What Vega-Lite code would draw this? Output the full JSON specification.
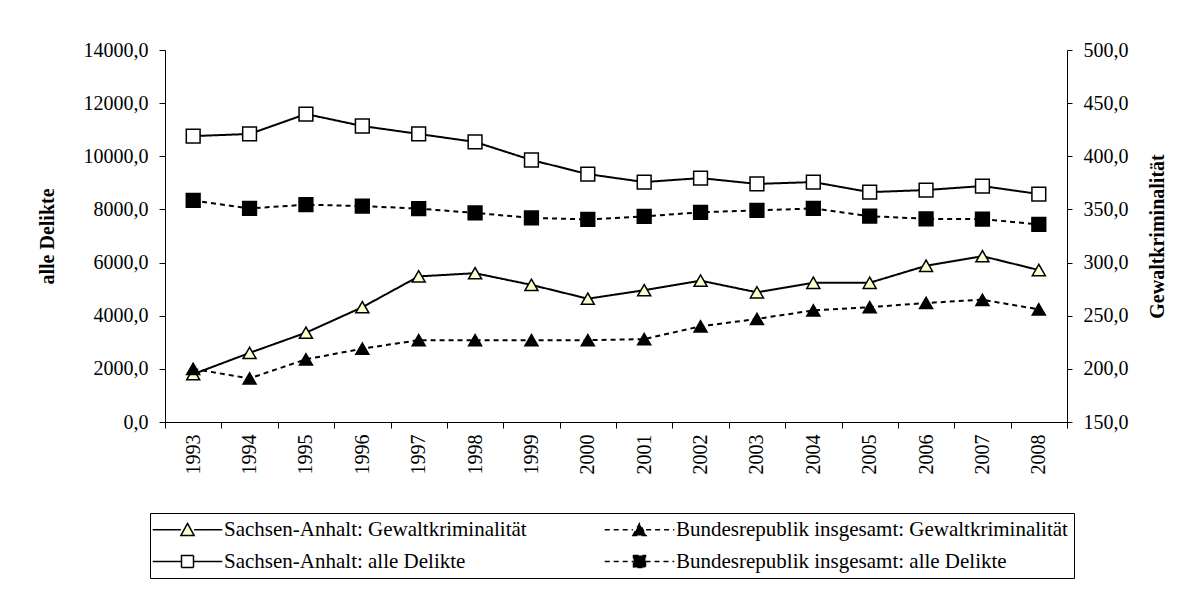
{
  "$schema": "https://vega.github.io/schema/vega-lite/v6.json",
  "width": 902,
  "height": 372,
  "autosize": "none",
  "padding": {"left": 165, "top": 50, "right": 125, "bottom": 175},
  "background": "white",
  "config": {
    "view": {"stroke": null},
    "font": "Liberation Serif",
    "axis": {
      "labelFont": "Liberation Serif",
      "labelFontSize": 20,
      "labelColor": "black",
      "titleFont": "Liberation Serif",
      "titleFontSize": 20,
      "titleFontWeight": "bold",
      "titleColor": "black",
      "domainColor": "black",
      "tickColor": "black",
      "grid": false,
      "labelOverlap": false,
      "labelBound": false,
      "labelFlush": false
    }
  },
  "data": {
    "values": [
      {"year": "1993", "series": "Sachsen-Anhalt: alle Delikte", "value": 10760},
      {"year": "1994", "series": "Sachsen-Anhalt: alle Delikte", "value": 10840},
      {"year": "1995", "series": "Sachsen-Anhalt: alle Delikte", "value": 11590},
      {"year": "1996", "series": "Sachsen-Anhalt: alle Delikte", "value": 11140},
      {"year": "1997", "series": "Sachsen-Anhalt: alle Delikte", "value": 10840},
      {"year": "1998", "series": "Sachsen-Anhalt: alle Delikte", "value": 10540},
      {"year": "1999", "series": "Sachsen-Anhalt: alle Delikte", "value": 9860},
      {"year": "2000", "series": "Sachsen-Anhalt: alle Delikte", "value": 9330},
      {"year": "2001", "series": "Sachsen-Anhalt: alle Delikte", "value": 9030},
      {"year": "2002", "series": "Sachsen-Anhalt: alle Delikte", "value": 9180},
      {"year": "2003", "series": "Sachsen-Anhalt: alle Delikte", "value": 8960},
      {"year": "2004", "series": "Sachsen-Anhalt: alle Delikte", "value": 9030},
      {"year": "2005", "series": "Sachsen-Anhalt: alle Delikte", "value": 8650},
      {"year": "2006", "series": "Sachsen-Anhalt: alle Delikte", "value": 8730},
      {"year": "2007", "series": "Sachsen-Anhalt: alle Delikte", "value": 8880},
      {"year": "2008", "series": "Sachsen-Anhalt: alle Delikte", "value": 8580},
      {"year": "1993", "series": "Bundesrepublik insgesamt: alle Delikte", "value": 8337},
      {"year": "1994", "series": "Bundesrepublik insgesamt: alle Delikte", "value": 8038},
      {"year": "1995", "series": "Bundesrepublik insgesamt: alle Delikte", "value": 8179},
      {"year": "1996", "series": "Bundesrepublik insgesamt: alle Delikte", "value": 8125},
      {"year": "1997", "series": "Bundesrepublik insgesamt: alle Delikte", "value": 8031},
      {"year": "1998", "series": "Bundesrepublik insgesamt: alle Delikte", "value": 7869},
      {"year": "1999", "series": "Bundesrepublik insgesamt: alle Delikte", "value": 7682},
      {"year": "2000", "series": "Bundesrepublik insgesamt: alle Delikte", "value": 7625},
      {"year": "2001", "series": "Bundesrepublik insgesamt: alle Delikte", "value": 7736},
      {"year": "2002", "series": "Bundesrepublik insgesamt: alle Delikte", "value": 7893},
      {"year": "2003", "series": "Bundesrepublik insgesamt: alle Delikte", "value": 7963},
      {"year": "2004", "series": "Bundesrepublik insgesamt: alle Delikte", "value": 8037},
      {"year": "2005", "series": "Bundesrepublik insgesamt: alle Delikte", "value": 7747},
      {"year": "2006", "series": "Bundesrepublik insgesamt: alle Delikte", "value": 7647},
      {"year": "2007", "series": "Bundesrepublik insgesamt: alle Delikte", "value": 7635},
      {"year": "2008", "series": "Bundesrepublik insgesamt: alle Delikte", "value": 7436},
      {"year": "1993", "series": "Sachsen-Anhalt: Gewaltkriminalität", "value": 195},
      {"year": "1994", "series": "Sachsen-Anhalt: Gewaltkriminalität", "value": 215},
      {"year": "1995", "series": "Sachsen-Anhalt: Gewaltkriminalität", "value": 234},
      {"year": "1996", "series": "Sachsen-Anhalt: Gewaltkriminalität", "value": 258},
      {"year": "1997", "series": "Sachsen-Anhalt: Gewaltkriminalität", "value": 287},
      {"year": "1998", "series": "Sachsen-Anhalt: Gewaltkriminalität", "value": 290},
      {"year": "1999", "series": "Sachsen-Anhalt: Gewaltkriminalität", "value": 279},
      {"year": "2000", "series": "Sachsen-Anhalt: Gewaltkriminalität", "value": 266},
      {"year": "2001", "series": "Sachsen-Anhalt: Gewaltkriminalität", "value": 274},
      {"year": "2002", "series": "Sachsen-Anhalt: Gewaltkriminalität", "value": 283},
      {"year": "2003", "series": "Sachsen-Anhalt: Gewaltkriminalität", "value": 272},
      {"year": "2004", "series": "Sachsen-Anhalt: Gewaltkriminalität", "value": 281},
      {"year": "2005", "series": "Sachsen-Anhalt: Gewaltkriminalität", "value": 281},
      {"year": "2006", "series": "Sachsen-Anhalt: Gewaltkriminalität", "value": 297},
      {"year": "2007", "series": "Sachsen-Anhalt: Gewaltkriminalität", "value": 306},
      {"year": "2008", "series": "Sachsen-Anhalt: Gewaltkriminalität", "value": 293},
      {"year": "1993", "series": "Bundesrepublik insgesamt: Gewaltkriminalität", "value": 200},
      {"year": "1994", "series": "Bundesrepublik insgesamt: Gewaltkriminalität", "value": 191},
      {"year": "1995", "series": "Bundesrepublik insgesamt: Gewaltkriminalität", "value": 209},
      {"year": "1996", "series": "Bundesrepublik insgesamt: Gewaltkriminalität", "value": 219},
      {"year": "1997", "series": "Bundesrepublik insgesamt: Gewaltkriminalität", "value": 227},
      {"year": "1998", "series": "Bundesrepublik insgesamt: Gewaltkriminalität", "value": 227},
      {"year": "1999", "series": "Bundesrepublik insgesamt: Gewaltkriminalität", "value": 227},
      {"year": "2000", "series": "Bundesrepublik insgesamt: Gewaltkriminalität", "value": 227},
      {"year": "2001", "series": "Bundesrepublik insgesamt: Gewaltkriminalität", "value": 228},
      {"year": "2002", "series": "Bundesrepublik insgesamt: Gewaltkriminalität", "value": 240},
      {"year": "2003", "series": "Bundesrepublik insgesamt: Gewaltkriminalität", "value": 247},
      {"year": "2004", "series": "Bundesrepublik insgesamt: Gewaltkriminalität", "value": 255},
      {"year": "2005", "series": "Bundesrepublik insgesamt: Gewaltkriminalität", "value": 258},
      {"year": "2006", "series": "Bundesrepublik insgesamt: Gewaltkriminalität", "value": 262},
      {"year": "2007", "series": "Bundesrepublik insgesamt: Gewaltkriminalität", "value": 265},
      {"year": "2008", "series": "Bundesrepublik insgesamt: Gewaltkriminalität", "value": 256}
    ]
  },
  "encoding": {
    "x": {
      "field": "year",
      "type": "ordinal",
      "scale": {"paddingInner": 0, "paddingOuter": 0},
      "axis": {
        "title": null,
        "labelAngle": -90,
        "labelAlign": "right",
        "labelBaseline": "middle",
        "tickBand": "extent",
        "tickSize": 6,
        "labelPadding": 6
      }
    }
  },
  "layer": [
    {
      "transform": [{"filter": "indexof(datum.series, 'alle Delikte') >= 0"}],
      "encoding": {
        "y": {
          "field": "value",
          "type": "quantitative",
          "scale": {"domain": [0, 14000], "nice": false, "zero": false},
          "axis": {
            "orient": "left",
            "values": [0, 2000, 4000, 6000, 8000, 10000, 12000, 14000],
            "labelExpr": "replace(format(datum.value, '.1f'), '.', ',')",
            "tickSize": 6,
            "labelPadding": 11,
            "title": "alle Delikte",
            "titleAngle": 270,
            "titlePadding": 26
          }
        }
      },
      "layer": [
        {
          "mark": {"type": "line", "color": "black", "strokeWidth": 2},
          "encoding": {
            "strokeDash": {
              "field": "series",
              "type": "nominal",
              "scale": {
                "domain": [
                  "Sachsen-Anhalt: Gewaltkriminalität",
                  "Sachsen-Anhalt: alle Delikte",
                  "Bundesrepublik insgesamt: Gewaltkriminalität",
                  "Bundesrepublik insgesamt: alle Delikte"
                ],
                "range": [[1, 0], [1, 0], [5, 4], [5, 4]]
              },
              "legend": {
                "orient": "none",
                "legendX": -15,
                "legendY": 463,
                "columns": 2,
                "title": null,
                "strokeColor": "black",
                "padding": 6,
                "symbolSize": 144,
                "symbolOffset": 21,
                "symbolStrokeWidth": 1.5,
                "symbolStrokeColor": "black",
                "labelOffset": 26,
                "labelFont": "Liberation Serif",
                "labelFontSize": 21,
                "labelColor": "black",
                "labelLimit": 700,
                "labelExpr": "datum.value === 'Bundesrepublik insgesamt: Gewaltkriminalität' ? datum.value + '\u2003\u2003\u00a0\u00a0' : datum.value",
                "rowPadding": 10,
                "columnPadding": 74,
                "encode": {
                  "symbols": {
                    "update": {
                      "shape": {"signal": "indexof(datum.value, 'alle Delikte') >= 0 ? 'M-5.8,0H-1M1,0H5.8M-1,-1H1V1H-1Z' : 'M-5.8,0H-1.1M1.1,0H5.8M-1.1,0.95L0,-1.05L1.1,0.95Z'"},
                      "fill": {"signal": "datum.value === 'Sachsen-Anhalt: Gewaltkriminalität' ? '#FFFFCC' : (datum.value === 'Sachsen-Anhalt: alle Delikte' ? 'white' : 'black')"},
                      "stroke": {"value": "black"},
                      "opacity": {"value": 1},
                      "fillOpacity": {"value": 1}
                    }
                  }
                }
              }
            }
          }
        },
        {
          "transform": [{"filter": "datum.series === 'Sachsen-Anhalt: alle Delikte'"}],
          "mark": {"type": "point", "shape": "square", "filled": true, "fill": "white", "stroke": "black", "strokeWidth": 1.5, "opacity": 1, "size": 190}
        },
        {
          "transform": [{"filter": "datum.series === 'Bundesrepublik insgesamt: alle Delikte'"}],
          "mark": {"type": "point", "shape": "square", "filled": true, "fill": "black", "stroke": "black", "strokeWidth": 1.5, "opacity": 1, "size": 190}
        }
      ]
    },
    {
      "transform": [{"filter": "indexof(datum.series, 'Gewaltkriminalität') >= 0"}],
      "encoding": {
        "y": {
          "field": "value",
          "type": "quantitative",
          "scale": {"domain": [150, 500], "nice": false, "zero": false},
          "axis": {
            "orient": "right",
            "values": [150, 200, 250, 300, 350, 400, 450, 500],
            "labelExpr": "replace(format(datum.value, '.1f'), '.', ',')",
            "tickSize": 5,
            "labelPadding": 11,
            "title": "Gewaltkriminalität",
            "titleAngle": 270,
            "titleBaseline": "top",
            "titlePadding": 19
          }
        }
      },
      "layer": [
        {
          "mark": {"type": "line", "color": "black", "strokeWidth": 2},
          "encoding": {
            "strokeDash": {"field": "series", "type": "nominal"}
          }
        },
        {
          "transform": [{"filter": "datum.series === 'Sachsen-Anhalt: Gewaltkriminalität'"}],
          "mark": {"type": "point", "shape": "triangle-up", "filled": true, "fill": "#FFFFCC", "stroke": "black", "strokeWidth": 1.5, "opacity": 1, "size": 170}
        },
        {
          "transform": [{"filter": "datum.series === 'Bundesrepublik insgesamt: Gewaltkriminalität'"}],
          "mark": {"type": "point", "shape": "triangle-up", "filled": true, "fill": "black", "stroke": "black", "strokeWidth": 1.5, "opacity": 1, "size": 170}
        }
      ]
    }
  ],
  "resolve": {"scale": {"y": "independent"}}
}
